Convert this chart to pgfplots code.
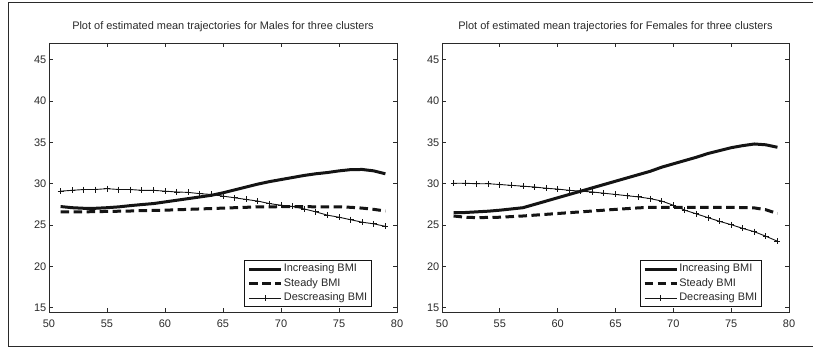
\documentclass[border=0pt]{standalone}
\usepackage{pgfplots}
\pgfplotsset{compat=1.18}
\usepackage{fontspec}
\setmainfont{Liberation Sans}
\definecolor{ink}{HTML}{141414}
\definecolor{axc}{HTML}{2A2A2A}

\pgfplotsset{
  common/.style={
    scale only axis, width=348bp, height=269bp,
    xmin=50, xmax=80, ymin=14.5, ymax=47,
    xtick={50,55,...,80}, ytick={15,20,...,45},
    tick align=inside, major tick length=4bp,
    axis line style={line width=0.9bp, axc},
    tick style={line width=0.8bp, axc},
    font=\fontsize{11}{13}\selectfont,
    /pgf/number format/assume math mode=true,
    ticklabel style={font=\fontsize{11}{13}\selectfont, text=axc},
    yticklabel style={inner sep=0pt, xshift=-2.5bp},
    xticklabel style={inner sep=0pt, yshift=-8bp},
    title style={inner sep=0pt, yshift=5.5bp, text=axc},
    legend cell align=left,
    legend image code/.code={\draw[mark repeat=2,mark phase=2,##1] plot coordinates {(0bp,0bp) (16bp,0bp) (32bp,0bp)};},
    legend style={draw=ink, line width=0.9bp, anchor=south east, inner xsep=3bp, inner ysep=1bp,
      font=\fontsize{11}{13}\selectfont, text=axc,
      nodes={text height=7.5bp, text depth=2.5bp, inner ysep=2.25bp, inner xsep=1.2bp}},
  },
  inc/.style={ink, line width=3bp},
  std/.style={ink, line width=3bp, dash pattern=on 8.5bp off 4.5bp},
  dec/.style={ink, line width=0.9bp, mark=+, mark size=3bp, mark options={solid, line width=0.9bp}},
}

\begin{document}
\begin{tikzpicture}
\path[use as bounding box] (0bp,0bp) rectangle (813bp,358bp);
\draw[axc, line width=1bp] (813bp,355bp) -- (8.3bp,355bp) -- (8.3bp,11bp) -- (813bp,11bp);

\begin{axis}[common, at={(49bp,46bp)}, anchor=south west,
  title={Plot of estimated mean trajectories for Males for three clusters},
  legend style={at={(rel axis cs:0.928,0.019)}}]
\addplot[inc] coordinates {(51,27.24) (52,27.1) (53,27.03) (54,27.03) (55,27.1) (56,27.2) (57,27.35) (58,27.48) (59,27.6) (60,27.8) (61,28.0) (62,28.2) (63,28.4) (64,28.6) (65,28.9) (66,29.25) (67,29.6) (68,29.95) (69,30.25) (70,30.5) (71,30.75) (72,31.0) (73,31.2) (74,31.35) (75,31.55) (76,31.7) (77,31.72) (78,31.55) (79,31.2)};
\addlegendentry{Increasing BMI}
\addplot[std] coordinates {(51,26.6) (53,26.6) (55,26.65) (57,26.7) (58,26.75) (60,26.8) (62,26.9) (63,26.95) (65,27.05) (67,27.15) (68,27.2) (70,27.22) (72,27.22) (75,27.2) (76,27.15) (77,27.05) (78,26.9) (79,26.7)};
\addlegendentry{Steady BMI}
\addplot[dec] coordinates {(51,29.1) (52,29.2) (53,29.3) (54,29.3) (55,29.4) (56,29.3) (57,29.3) (58,29.2) (59,29.2) (60,29.1) (61,29.0) (62,28.95) (63,28.8) (64,28.7) (65,28.5) (66,28.3) (67,28.1) (68,27.9) (69,27.6) (70,27.4) (71,27.25) (72,26.95) (73,26.6) (74,26.2) (75,25.95) (76,25.65) (77,25.35) (78,25.15) (79,24.85)};
\addlegendentry{Descreasing BMI}
\end{axis}

\begin{axis}[common, at={(442bp,46bp)}, anchor=south west, width=347bp,
  title={Plot of estimated mean trajectories for Females for three clusters},
  legend style={at={(rel axis cs:0.922,0.019)}}]
\addplot[inc] coordinates {(51,26.5) (52,26.52) (53,26.6) (54,26.68) (55,26.8) (56,26.95) (57,27.1) (58,27.5) (59,27.9) (60,28.3) (61,28.7) (62,29.1) (63,29.5) (64,29.9) (65,30.3) (66,30.7) (67,31.1) (68,31.5) (69,32.0) (70,32.4) (71,32.8) (72,33.2) (73,33.65) (74,34.0) (75,34.35) (76,34.6) (77,34.8) (78,34.7) (79,34.4)};
\addlegendentry{Increasing BMI}
\addplot[std] coordinates {(51,26.1) (52,25.95) (53,25.9) (55,25.95) (57,26.1) (60,26.4) (63,26.7) (65,26.9) (67,27.08) (68,27.15) (70,27.15) (75,27.15) (77,27.08) (78,26.85) (79,26.4)};
\addlegendentry{Steady BMI}
\addplot[dec] coordinates {(51,30.05) (52,30.05) (53,30.0) (54,30.0) (55,29.9) (56,29.8) (57,29.7) (58,29.6) (59,29.45) (60,29.35) (61,29.2) (62,29.1) (63,29.0) (64,28.85) (65,28.7) (66,28.55) (67,28.4) (68,28.2) (69,27.9) (70,27.4) (71,26.8) (72,26.35) (73,25.9) (74,25.45) (75,25.05) (76,24.6) (77,24.2) (78,23.65) (79,23.05)};
\addlegendentry{Decreasing BMI}
\end{axis}
\end{tikzpicture}
\end{document}
